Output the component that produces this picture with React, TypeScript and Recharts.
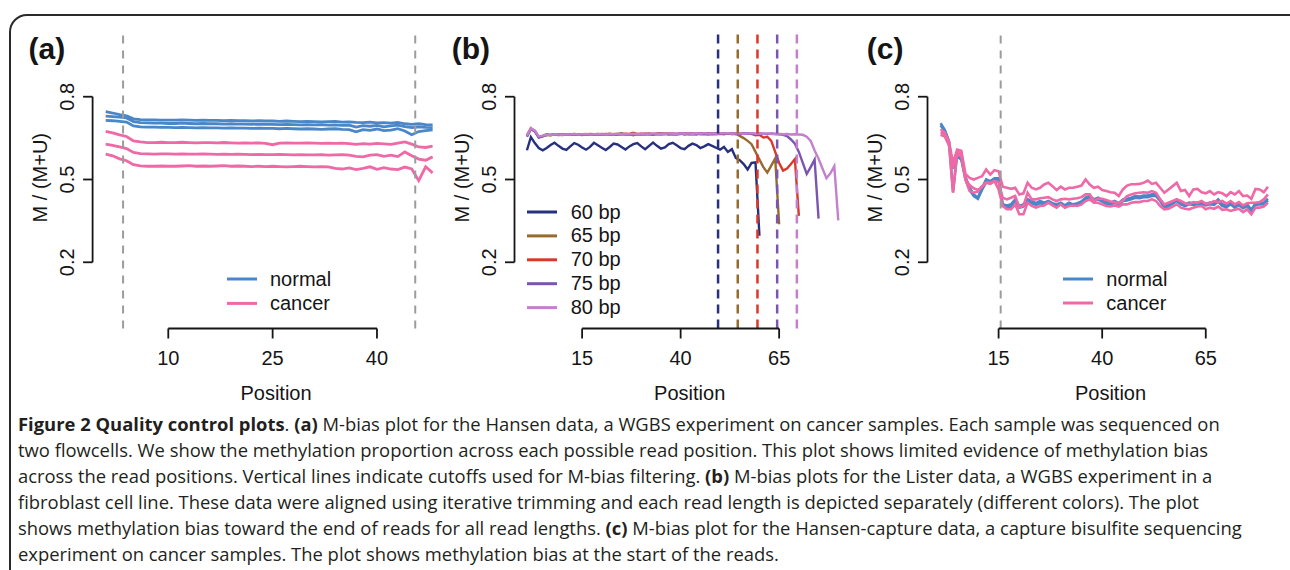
import React from 'react';
import { LineChart, Line, XAxis, YAxis, ReferenceLine, Legend } from 'recharts';

// (a) Hansen WGBS: one line per sample, read positions 1..48
const hansenNormal1 = [
  0.746, 0.741, 0.735, 0.731, 0.72, 0.717, 0.716, 0.716, 0.715, 0.715,
  0.715, 0.716, 0.715, 0.714, 0.715, 0.714, 0.714, 0.713, 0.714, 0.713,
  0.713, 0.712, 0.713, 0.712, 0.712, 0.711, 0.712, 0.711, 0.71, 0.711,
  0.71, 0.709, 0.71, 0.711, 0.708, 0.709, 0.707, 0.706, 0.708, 0.705,
  0.706, 0.704, 0.707, 0.702, 0.7, 0.702, 0.699, 0.698,
];
const hansenNormal2 = [
  0.73, 0.728, 0.726, 0.723, 0.71, 0.706, 0.705, 0.704, 0.704, 0.703,
  0.703, 0.704, 0.703, 0.702, 0.703, 0.702, 0.702, 0.701, 0.702, 0.701,
  0.701, 0.7, 0.701, 0.7, 0.7, 0.699, 0.7, 0.699, 0.698, 0.699,
  0.698, 0.699, 0.697, 0.698, 0.696, 0.697, 0.69, 0.695, 0.693, 0.696,
  0.691, 0.694, 0.697, 0.692, 0.688, 0.691, 0.689, 0.688,
];
const hansenNormal3 = [
  0.714, 0.713, 0.711, 0.708, 0.694, 0.691, 0.69, 0.69, 0.689, 0.689,
  0.688, 0.689, 0.688, 0.687, 0.688, 0.687, 0.687, 0.686, 0.687, 0.686,
  0.686, 0.685, 0.686, 0.685, 0.685, 0.684, 0.685, 0.684, 0.683, 0.684,
  0.683, 0.682, 0.683, 0.684, 0.682, 0.681, 0.673, 0.681, 0.678, 0.683,
  0.677, 0.679, 0.684, 0.676, 0.662, 0.674, 0.677, 0.68,
];
const hansenCancer1 = [
  0.674, 0.669, 0.662, 0.656, 0.64, 0.636, 0.634, 0.634, 0.635, 0.634,
  0.634, 0.635, 0.634, 0.633, 0.634, 0.634, 0.633, 0.634, 0.633, 0.632,
  0.633, 0.632, 0.633, 0.631, 0.626, 0.632, 0.633, 0.632, 0.632, 0.633,
  0.632, 0.631, 0.632, 0.631, 0.632, 0.63, 0.627, 0.63, 0.628, 0.631,
  0.629, 0.627, 0.632, 0.636, 0.628, 0.618, 0.616, 0.621,
];
const hansenCancer2 = [
  0.628, 0.624, 0.618, 0.612, 0.598, 0.594, 0.593, 0.592, 0.593, 0.593,
  0.592, 0.593, 0.592, 0.592, 0.593, 0.592, 0.591, 0.592, 0.591, 0.592,
  0.591, 0.59, 0.591, 0.59, 0.59, 0.591, 0.59, 0.589, 0.59, 0.589,
  0.589, 0.59, 0.588, 0.589, 0.59, 0.588, 0.584, 0.582, 0.588, 0.59,
  0.584, 0.588, 0.583, 0.6, 0.586, 0.574, 0.57, 0.582,
];
const hansenCancer3 = [
  0.592, 0.586, 0.575, 0.568, 0.554, 0.549, 0.548, 0.548, 0.549, 0.548,
  0.548, 0.549, 0.55, 0.548, 0.549, 0.548, 0.549, 0.55, 0.548, 0.549,
  0.548, 0.547, 0.548, 0.547, 0.548, 0.547, 0.546, 0.547, 0.548, 0.547,
  0.546, 0.547, 0.546, 0.54, 0.538, 0.542, 0.536, 0.54, 0.546, 0.537,
  0.543, 0.538, 0.536, 0.545, 0.538, 0.496, 0.546, 0.524,
];

// (b) Lister WGBS, one line per read length
const lister60 = [
  0.606, 0.654, 0.632, 0.614, 0.606, 0.614, 0.625, 0.633, 0.622, 0.612,
  0.607, 0.62, 0.632, 0.626, 0.616, 0.608, 0.618, 0.633, 0.624, 0.615,
  0.607, 0.618, 0.63, 0.627, 0.618, 0.609, 0.62, 0.628, 0.632, 0.62,
  0.61, 0.622, 0.634, 0.622, 0.612, 0.616, 0.628, 0.633, 0.624, 0.614,
  0.61, 0.622, 0.63, 0.625, 0.614, 0.62, 0.628, 0.622, 0.615, 0.608,
  0.618, 0.6, 0.61, 0.578, 0.57, 0.556, 0.536, 0.56, 0.562, 0.296,
];
const lister65 = [
  0.657, 0.683, 0.675, 0.653, 0.656, 0.662, 0.66, 0.664, 0.662, 0.661,
  0.663, 0.662, 0.664, 0.663, 0.661, 0.664, 0.663, 0.662, 0.665, 0.663,
  0.664, 0.662, 0.665, 0.664, 0.668, 0.663, 0.664, 0.66, 0.665, 0.663,
  0.666, 0.664, 0.663, 0.665, 0.664, 0.666, 0.663, 0.665, 0.664, 0.666,
  0.663, 0.665, 0.664, 0.666, 0.664, 0.665, 0.663, 0.665, 0.664, 0.666,
  0.664, 0.667, 0.665, 0.666, 0.658, 0.65, 0.64, 0.628, 0.6, 0.572,
  0.545, 0.525, 0.55, 0.576, 0.338,
];
const lister70 = [
  0.66, 0.686, 0.674, 0.655, 0.658, 0.664, 0.661, 0.663, 0.664, 0.662,
  0.664, 0.663, 0.665, 0.662, 0.664, 0.663, 0.665, 0.664, 0.663, 0.665,
  0.664, 0.666, 0.663, 0.665, 0.664, 0.666, 0.665, 0.669, 0.664, 0.666,
  0.665, 0.667, 0.664, 0.666, 0.668, 0.665, 0.667, 0.666, 0.664, 0.667,
  0.665, 0.668, 0.666, 0.664, 0.667, 0.666, 0.668, 0.665, 0.667, 0.666,
  0.668, 0.666, 0.667, 0.665, 0.667, 0.666, 0.668, 0.665, 0.66, 0.662,
  0.652, 0.655, 0.64, 0.6, 0.56, 0.532, 0.54, 0.556, 0.574, 0.368,
];
const lister75 = [
  0.655, 0.682, 0.676, 0.652, 0.657, 0.661, 0.662, 0.663, 0.661, 0.663,
  0.662, 0.664, 0.662, 0.664, 0.663, 0.662, 0.664, 0.663, 0.664, 0.662,
  0.665, 0.663, 0.664, 0.663, 0.665, 0.664, 0.663, 0.665, 0.664, 0.665,
  0.663, 0.665, 0.664, 0.666, 0.664, 0.665, 0.666, 0.664, 0.666, 0.665,
  0.667, 0.665, 0.666, 0.665, 0.667, 0.666, 0.665, 0.667, 0.666, 0.668,
  0.666, 0.667, 0.665, 0.667, 0.666, 0.668, 0.666, 0.667, 0.665, 0.667,
  0.666, 0.665, 0.667, 0.665, 0.664, 0.662, 0.657, 0.645, 0.63, 0.6,
  0.56, 0.52, 0.545, 0.572, 0.358,
];
const lister80 = [
  0.659, 0.685, 0.678, 0.656, 0.659, 0.663, 0.661, 0.664, 0.663, 0.662,
  0.664, 0.663, 0.665, 0.663, 0.664, 0.665, 0.663, 0.664, 0.665, 0.664,
  0.663, 0.665, 0.664, 0.666, 0.664, 0.665, 0.664, 0.666, 0.665, 0.664,
  0.666, 0.665, 0.667, 0.665, 0.666, 0.665, 0.667, 0.666, 0.665, 0.667,
  0.666, 0.667, 0.665, 0.667, 0.666, 0.668, 0.666, 0.667, 0.666, 0.668,
  0.667, 0.668, 0.666, 0.667, 0.668, 0.666, 0.667, 0.668, 0.666, 0.667,
  0.666, 0.667, 0.665, 0.666, 0.665, 0.664, 0.665, 0.663, 0.664, 0.663,
  0.662, 0.655, 0.64, 0.605, 0.575, 0.54, 0.505, 0.522, 0.548, 0.352,
];

// (c) Hansen-capture, positions 1..80
const captureNormal1 = [
  0.704, 0.68, 0.64, 0.456, 0.59, 0.578, 0.51, 0.47, 0.446, 0.434,
  0.47, 0.5, 0.494, 0.504, 0.504, 0.41, 0.406, 0.41, 0.428, 0.404,
  0.41, 0.428, 0.422, 0.414, 0.422, 0.416, 0.422, 0.414, 0.41, 0.416,
  0.406, 0.416, 0.41, 0.414, 0.42, 0.434, 0.44, 0.428, 0.434, 0.426,
  0.418, 0.416, 0.422, 0.414, 0.428, 0.43, 0.434, 0.44, 0.438, 0.442,
  0.442, 0.446, 0.446, 0.428, 0.404, 0.41, 0.418, 0.428, 0.416, 0.41,
  0.416, 0.414, 0.416, 0.418, 0.412, 0.416, 0.414, 0.428, 0.41, 0.406,
  0.416, 0.404, 0.414, 0.402, 0.41, 0.39, 0.414, 0.416, 0.416, 0.43,
];
const captureNormal2 = [
  0.696, 0.676, 0.636, 0.54, 0.584, 0.572, 0.5, 0.462, 0.44, 0.43,
  0.462, 0.49, 0.486, 0.496, 0.498, 0.404, 0.4, 0.402, 0.42, 0.398,
  0.402, 0.42, 0.414, 0.408, 0.414, 0.41, 0.416, 0.408, 0.404, 0.41,
  0.4, 0.41, 0.404, 0.408, 0.414, 0.428, 0.434, 0.422, 0.428, 0.42,
  0.412, 0.41, 0.416, 0.408, 0.422, 0.424, 0.428, 0.434, 0.432, 0.436,
  0.436, 0.44, 0.44, 0.422, 0.398, 0.404, 0.412, 0.422, 0.41, 0.404,
  0.41, 0.408, 0.41, 0.412, 0.406, 0.41, 0.408, 0.42, 0.404, 0.4,
  0.41, 0.398, 0.408, 0.396, 0.404, 0.386, 0.408, 0.41, 0.41, 0.424,
];
const captureCancer1 = [
  0.672, 0.664, 0.64, 0.56, 0.608, 0.604, 0.52, 0.506, 0.5, 0.506,
  0.512, 0.536, 0.518, 0.534, 0.53, 0.474, 0.47, 0.466, 0.47, 0.446,
  0.45, 0.488, 0.47, 0.464, 0.47, 0.482, 0.488, 0.476, 0.462, 0.474,
  0.464, 0.47, 0.47, 0.474, 0.478, 0.5, 0.482, 0.47, 0.474, 0.462,
  0.458, 0.454, 0.452, 0.44, 0.464, 0.478, 0.483, 0.483, 0.484, 0.488,
  0.496, 0.484, 0.488, 0.47, 0.452, 0.464, 0.476, 0.488, 0.458, 0.462,
  0.44, 0.464, 0.466, 0.454, 0.45, 0.458, 0.446, 0.454, 0.45, 0.44,
  0.454, 0.446, 0.458, 0.44, 0.442, 0.43, 0.466, 0.464, 0.454, 0.474,
];
const captureCancer2 = [
  0.682, 0.67, 0.636, 0.452, 0.6, 0.596, 0.5, 0.48, 0.468, 0.462,
  0.474, 0.488, 0.484, 0.494, 0.49, 0.434, 0.428, 0.434, 0.44, 0.4,
  0.404, 0.452, 0.428, 0.428, 0.432, 0.434, 0.436, 0.428, 0.422, 0.428,
  0.43, 0.428, 0.43, 0.432, 0.436, 0.446, 0.446, 0.422, 0.43, 0.43,
  0.426, 0.42, 0.418, 0.414, 0.424, 0.44, 0.446, 0.45, 0.452, 0.454,
  0.452, 0.458, 0.452, 0.428, 0.41, 0.416, 0.422, 0.428, 0.422, 0.414,
  0.41, 0.418, 0.416, 0.422, 0.412, 0.414, 0.422, 0.418, 0.422, 0.412,
  0.422, 0.41, 0.418, 0.406, 0.414, 0.416, 0.416, 0.418, 0.428, 0.446,
];
const captureCancer3 = [
  0.662, 0.656, 0.624, 0.55, 0.59, 0.585, 0.5, 0.458, 0.452, 0.456,
  0.476, 0.488, 0.488, 0.494, 0.464, 0.404, 0.392, 0.392, 0.41, 0.374,
  0.374, 0.416, 0.404, 0.398, 0.404, 0.406, 0.416, 0.406, 0.398, 0.41,
  0.398, 0.404, 0.406, 0.404, 0.41, 0.422, 0.428, 0.416, 0.416, 0.41,
  0.404, 0.402, 0.406, 0.402, 0.41, 0.41, 0.416, 0.418, 0.418, 0.422,
  0.422, 0.428, 0.422, 0.404, 0.392, 0.394, 0.402, 0.41, 0.398, 0.394,
  0.392, 0.398, 0.402, 0.404, 0.392, 0.398, 0.394, 0.402, 0.39, 0.392,
  0.386, 0.39, 0.394, 0.382, 0.392, 0.374, 0.398, 0.398, 0.402, 0.416,
];

const yTicks = [0.2, 0.5, 0.8];
const xTicksA = [10, 25, 40];
const xTicksBC = [15, 40, 65];
const cutoffsA = [3.5, 45.5];
const cutoffsB = [49.5, 54.5, 59.5, 64.5, 69.5];
const cutoffsC = [15.5];
const groupLabels = ['normal', 'cancer'];
const readLengthLabels = ['60 bp', '65 bp', '70 bp', '75 bp', '80 bp'];

const FONT = '"Liberation Sans", Arial, Helvetica, sans-serif';
const INK = '#151515';
const BLUE = '#4A87C9';
const PINK = '#EF69A6';
const GREY = '#9c9c9c';
const READ_COLORS = ['#27307C', '#976A2D', '#D9392C', '#7A56B0', '#C380CB'];

const PLOT_TOP = 30.5;
const PLOT_BOTTOM = 328.5;
const CHART_H = 410;

type Series = { values: number[]; color: string };

function buildRows(series: Series[]) {
  const n = Math.max(...series.map((s) => s.values.length));
  const rows: Record<string, number | undefined>[] = [];
  for (let i = 0; i < n; i++) {
    const row: Record<string, number | undefined> = { pos: i + 1 };
    series.forEach((s, k) => {
      row['s' + k] = s.values[i];
    });
    rows.push(row);
  }
  return rows;
}

const XTick = (props: any) => {
  const { x, y, payload } = props;
  return (
    <text x={x} y={y} textAnchor="middle" fontSize={20} fontFamily={FONT} fill={INK}>
      {payload.value}
    </text>
  );
};

const YTick = (props: any) => {
  const { x, y, payload } = props;
  return (
    <text
      x={x}
      y={y}
      textAnchor="middle"
      transform={`rotate(-90 ${x} ${y})`}
      fontSize={20}
      fontFamily={FONT}
      fill={INK}
    >
      {Number(payload.value).toFixed(1)}
    </text>
  );
};

type PanelProps = {
  left: number;
  width: number;
  plotLeft: number;
  plotRight: number;
  xDomain: [number, number];
  xTicks: number[];
  series: Series[];
  cutoffs: { x: number; color: string }[];
  dash: string;
  cutoffWidth: number;
  lineWidth: number;
  legend: { label: string; color: string }[];
  legendLineX: number;
  legendTextX: number;
  legendY: number;
  legendPitch: number;
  tag: string;
  tagX: number;
  positionX: number;
};

const Panel = (p: PanelProps) => {
  const rows = buildRows(p.series);
  const axisX = p.plotLeft - p.left;
  const legendTop = p.legendY - 14;
  return (
    <div style={{ position: 'absolute', left: p.left, top: 0, width: p.width, height: CHART_H }}>
      <LineChart
        width={p.width}
        height={CHART_H}
        data={rows}
        margin={{ top: PLOT_TOP, right: p.left + p.width - p.plotRight, bottom: 0, left: 0 }}
      >
        <XAxis
          dataKey="pos"
          type="number"
          domain={p.xDomain}
          ticks={p.xTicks}
          interval={0}
          allowDataOverflow
          axisLine={false}
          tickLine={{ stroke: INK, strokeWidth: 1.8 }}
          tickSize={10}
          tickMargin={26.5}
          height={CHART_H - PLOT_BOTTOM}
          tick={<XTick />}
        />
        <YAxis
          type="number"
          domain={[-0.04, 1.04]}
          ticks={yTicks}
          interval={0}
          allowDataOverflow
          axisLine={false}
          tickLine={{ stroke: INK, strokeWidth: 1.8 }}
          tickSize={9.5}
          tickMargin={9}
          width={axisX}
          tick={<YTick />}
        />
        {p.series.map((s, k) => (
          <Line
            key={k}
            type="linear"
            dataKey={'s' + k}
            stroke={s.color}
            strokeWidth={p.lineWidth}
            dot={false}
            activeDot={false}
            isAnimationActive={false}
          />
        ))}
        {p.cutoffs.map((c, k) => (
          <ReferenceLine
            key={'c' + k}
            x={c.x}
            stroke={c.color}
            strokeWidth={p.cutoffWidth}
            strokeDasharray={p.dash}
          />
        ))}
        <ReferenceLine
          segment={[
            { x: p.xTicks[0], y: -0.04 },
            { x: p.xTicks[p.xTicks.length - 1], y: -0.04 },
          ]}
          stroke={INK}
          strokeWidth={1.8}
          ifOverflow="visible"
        />
        <ReferenceLine
          segment={[
            { x: p.xDomain[0], y: 0.2 },
            { x: p.xDomain[0], y: 0.8 },
          ]}
          stroke={INK}
          strokeWidth={1.8}
          ifOverflow="visible"
        />
        <Legend
          layout="horizontal"
          verticalAlign="middle"
          align="center"
          wrapperStyle={{ left: p.legendLineX - p.left, top: legendTop, width: 160, height: p.legend.length * p.legendPitch + 10 }}
          content={() => (
            <svg width={160} height={p.legend.length * p.legendPitch + 10} style={{ display: 'block', overflow: 'visible' }}>
              {p.legend.map((it, i) => (
                <g key={it.label}>
                  <line
                    x1={0}
                    x2={30}
                    y1={14 + i * p.legendPitch}
                    y2={14 + i * p.legendPitch}
                    stroke={it.color}
                    strokeWidth={3}
                  />
                  <text
                    x={p.legendTextX - p.legendLineX}
                    y={14 + i * p.legendPitch + 6.5}
                    fontSize={20}
                    fontFamily={FONT}
                    fill={INK}
                  >
                    {it.label}
                  </text>
                </g>
              ))}
            </svg>
          )}
        />
      </LineChart>
      <svg
        width={p.width}
        height={CHART_H}
        style={{ position: 'absolute', left: 0, top: 0, pointerEvents: 'none', overflow: 'visible' }}
      >
        <text x={p.tagX - p.left - 1.5} y={59} fontSize={30} fontWeight="bold" fontFamily={FONT} fill={INK}>
          {p.tag}
        </text>
        <text
          x={axisX - 45.5}
          y={177.7}
          textAnchor="middle"
          transform={`rotate(-90 ${axisX - 45.5} 177.7)`}
          fontSize={20}
          fontFamily={FONT}
          fill={INK}
        >
          M / (M+U)
        </text>
        <text x={p.positionX - p.left} y={400} textAnchor="middle" fontSize={20} fontFamily={FONT} fill={INK}>
          Position
        </text>
      </svg>
    </div>
  );
};

const captionLines: { text: string; bold?: boolean }[][] = [
  [
    { text: 'Figure 2 Quality control plots', bold: true },
    { text: '. ' },
    { text: '(a)', bold: true },
    { text: ' M-bias plot for the Hansen data, a WGBS experiment on cancer samples. Each sample was sequenced on' },
  ],
  [{ text: 'two flowcells. We show the methylation proportion across each possible read position. This plot shows limited evidence of methylation bias' }],
  [
    { text: 'across the read positions. Vertical lines indicate cutoffs used for M-bias filtering. ' },
    { text: '(b)', bold: true },
    { text: ' M-bias plots for the Lister data, a WGBS experiment in a' },
  ],
  [{ text: 'fibroblast cell line. These data were aligned using iterative trimming and each read length is depicted separately (different colors). The plot' }],
  [
    { text: 'shows methylation bias toward the end of reads for all read lengths. ' },
    { text: '(c)', bold: true },
    { text: ' M-bias plot for the Hansen-capture data, a capture bisulfite sequencing' },
  ],
  [{ text: 'experiment on cancer samples. The plot shows methylation bias at the start of the reads.' }],
];

export default function App() {
  const normalSeriesA = [hansenNormal1, hansenNormal2, hansenNormal3].map((v) => ({ values: v, color: BLUE }));
  const cancerSeriesA = [hansenCancer1, hansenCancer2, hansenCancer3].map((v) => ({ values: v, color: PINK }));
  const listerSeries = [lister60, lister65, lister70, lister75, lister80].map((v, i) => ({ values: v, color: READ_COLORS[i] }));
  const normalSeriesC = [captureNormal1, captureNormal2].map((v) => ({ values: v, color: BLUE }));
  const cancerSeriesC = [captureCancer1, captureCancer2, captureCancer3].map((v) => ({ values: v, color: PINK }));
  const groupLegend = groupLabels.map((l, i) => ({ label: l, color: i === 0 ? BLUE : PINK }));

  return (
    <div
      style={{
        position: 'absolute',
        left: 0,
        top: 0,
        width: 1290,
        height: 570,
        overflow: 'hidden',
        background: '#fff',
      }}
    >
      <div
        style={{
          position: 'absolute',
          left: 9,
          top: 14,
          width: 1297,
          height: 620,
          boxSizing: 'border-box',
          border: '2px solid #2a2a2a',
          borderRadius: 18,
        }}
      />
      <Panel
        left={0}
        width={450}
        plotLeft={92.6}
        plotRight={445.7}
        xDomain={[-0.88, 49.88]}
        xTicks={xTicksA}
        series={[...normalSeriesA, ...cancerSeriesA]}
        cutoffs={cutoffsA.map((x) => ({ x, color: GREY }))}
        dash="8 7"
        cutoffWidth={2}
        lineWidth={2.8}
        legend={groupLegend}
        legendLineX={227}
        legendTextX={270}
        legendY={279.3}
        legendPitch={24.4}
        tag="(a)"
        tagX={30}
        positionX={276}
      />
      <Panel
        left={450}
        width={410}
        plotLeft={514.5}
        plotRight={850.7}
        xDomain={[-2.16, 83.16]}
        xTicks={xTicksBC}
        series={listerSeries}
        cutoffs={cutoffsB.map((x, i) => ({ x, color: READ_COLORS[i] }))}
        dash="9 6"
        cutoffWidth={2.5}
        lineWidth={2.4}
        legend={readLengthLabels.map((l, i) => ({ label: l, color: READ_COLORS[i] }))}
        legendLineX={527}
        legendTextX={570.7}
        legendY={211.7}
        legendPitch={23.9}
        tag="(b)"
        tagX={453.3}
        positionX={689.7}
      />
      <Panel
        left={860}
        width={430}
        plotLeft={927.5}
        plotRight={1281}
        xDomain={[-2.16, 83.16]}
        xTicks={xTicksBC}
        series={[...normalSeriesC, ...cancerSeriesC]}
        cutoffs={cutoffsC.map((x) => ({ x, color: GREY }))}
        dash="8 7"
        cutoffWidth={2}
        lineWidth={2.6}
        legend={groupLegend}
        legendLineX={1062.7}
        legendTextX={1106}
        legendY={279.3}
        legendPitch={24}
        tag="(c)"
        tagX={868.3}
        positionX={1110.5}
      />
      <svg
        width={1290}
        height={570}
        style={{ position: 'absolute', left: 0, top: 0, pointerEvents: 'none' }}
      >
        {captionLines.map((line, i) => (
          <text
            key={i}
            x={18}
            y={431 + i * 26}
            fontFamily='"Open Sans", Lato, sans-serif'
            fontSize={18.4}
            fill="#231f20"
            style={{ whiteSpace: 'pre' }}
          >
            {line.map((seg, j) => (
              <tspan key={j} fontWeight={seg.bold ? 700 : 400}>
                {seg.text}
              </tspan>
            ))}
          </text>
        ))}
      </svg>
    </div>
  );
}
